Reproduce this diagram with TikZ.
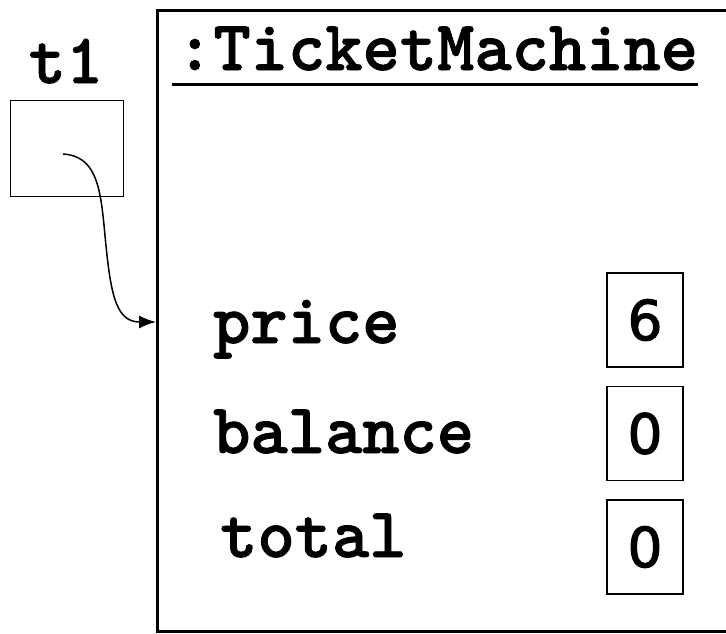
\documentclass[tikz,border=0pt]{standalone}
\usepackage{fontspec}
\newfontfamily\codefont{lmmonolt10-bold.otf}[FakeBold=1.2]
\newfontfamily\digitfont[FakeBold=2]{DejaVu Sans}
\usetikzlibrary{positioning,arrows.meta}

\begin{document}
\begin{tikzpicture}[
        x=1pt, y=-1pt,
        every node/.style={inner sep=0pt, font=\fontsize{71}{71}\selectfont\codefont},
        refbox/.style={draw, line width=1pt, minimum width=113pt, minimum height=96pt},
        objbox/.style={draw, line width=3pt, minimum width=600pt, minimum height=621pt},
        valbox/.style={draw, line width=1.5pt, minimum width=76pt, minimum height=94pt,
                       font=\fontsize{55}{55}\selectfont\digitfont},
        fieldname/.style={anchor=base west},
        ref/.style={draw, line width=1.5pt, -{Latex[length=17pt,width=13pt]}}
    ]
 \useasboundingbox (0,0) rectangle (726,633);
 \clip (0,0) rectangle (726,633);
 % variable t1
 \node (t1label) [anchor=base] at (66,83) {t1};
 \node (t1box) [refbox, anchor=north west] at (10,100) {};
 % the object
 \node (obj) [objbox, anchor=north west] at (156,9) {};
 \node (title) [anchor=base west] at (176,70) {:TicketMachine};
 \draw [line width=3pt] ([yshift=-14pt]title.base west) ++(-4,0) -- ([yshift=-14pt]title.base east);
 % fields
 \node (price)   [fieldname] at (213,343) {price};
 \node (balance) [fieldname] at (213,453) {balance};
 \node (total)   [fieldname] at (220,557) {total};
 \node (pricev)   [valbox] at (645,320) {6};
 \node (balancev) [valbox, below=18pt of pricev] {0};
 \node (totalv)   [valbox, below=18pt of balancev] {0};
 % reference
 \coordinate (from) at (63,154);
 \coordinate (to) at (obj.west |- 0,322);
 \draw [ref] (from) .. controls (95,156) and (100,185) .. (104,225)
             .. controls (110,290) and (114,322) .. (to);
\end{tikzpicture}
\end{document}
